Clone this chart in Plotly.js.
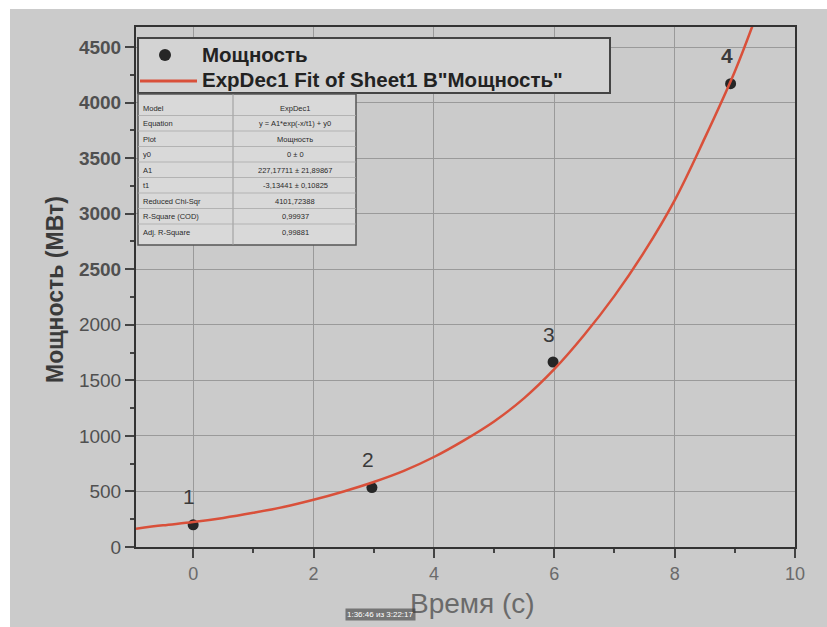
<!DOCTYPE html>
<html>
<head>
<meta charset="utf-8">
<script src="https://cdn.plot.ly/plotly-3.0.1.min.js"></script>
<style>html,body{margin:0;padding:0;background:#fff;}#chart{width:827px;height:627px;}</style>
</head>
<body>
<div id="chart"></div>
<script>
// Measured points (time, s ; power, MW)
const timeX = [0, 2.97, 5.98, 8.93];
const powerY = [200, 535, 1665, 4170];
const pointLabels = ["1", "2", "3", "<b>4</b>"];

// ExpDec1 fit curve
const fitX = [-0.95, -0.5, 0, 0.5, 1, 1.5, 2, 2.5, 3, 3.5, 4, 4.5, 5, 5.5, 6, 6.5, 7, 7.5, 8, 8.5, 9, 9.3];
const fitY = [165, 195, 225, 262, 308, 360, 425, 500, 585, 685, 810, 960, 1130, 1340, 1600, 1910, 2260, 2660, 3120, 3680, 4280, 4700];

// Tick labels
const yTickVals = [0, 500, 1000, 1500, 2000, 2500, 3000, 3500, 4000, 4500];
const yTickText = ["0", "500", "1000", "1500", "2000", "<b>2500</b>", "<b>3000</b>", "<b>3500</b>", "<b>4000</b>", "<b>4500</b>"];
const xTickVals = [0, 2, 4, 6, 8, 10];
const xTickText = ["0", "2", "4", "6", "8", "10"];

// Fit results table
const tableLabels = ["Model", "Equation", "Plot", "y0", "A1", "t1", "Reduced Chi-Sqr", "R-Square (COD)", "Adj. R-Square"];
const tableValues = ["ExpDec1", "y = A1*exp(-x/t1) + y0", "Мощность", "0 ± 0", "227,17711 ± 21,89867", "-3,13441 ± 0,10825", "4101,72388", "0,99937", "0,99881"];

const xTitle = "Время (с)";
const yTitle = "Мощность (МВт)";
const seriesName = "Мощность";
const fitName = "ExpDec1 Fit of Sheet1 B\"Мощность\"";
const stamp = "1:36:46 из 3:22:17";

const FONT = 'Liberation Sans, Arial, sans-serif';
// pixel -> paper helpers (plot area: x 136..795, y 27..547)
const PL = 136, PR = 795, PT = 27, PB = 547;
const px = x => (x - PL) / (PR - PL);
const py = y => (PB - y) / (PB - PT);

const traces = [
  {x: timeX, y: powerY, mode: 'markers', type: 'scatter', name: seriesName,
   marker: {color: '#262626', size: 11}, showlegend: false},
  {x: fitX, y: fitY, mode: 'lines', type: 'scatter', name: fitName,
   line: {color: '#d9503a', width: 2.5, shape: 'spline'}, showlegend: false}
];

const shapes = [
  // photo background
  {type: 'rect', xref: 'paper', yref: 'paper', x0: px(10), x1: px(827), y0: py(627), y1: py(9),
   fillcolor: '#cbcbcb', line: {width: 0}, layer: 'below'},
  // legend box
  {type: 'rect', xref: 'paper', yref: 'paper', x0: px(138), x1: px(610), y0: py(93), y1: py(38),
   fillcolor: '#d3d3d3', line: {color: '#444', width: 2}, layer: 'above'},
  {type: 'circle', xref: 'paper', yref: 'paper', x0: px(159), x1: px(171), y0: py(61), y1: py(49),
   fillcolor: '#262626', line: {width: 0}, layer: 'above'},
  {type: 'line', xref: 'paper', yref: 'paper', x0: px(140), x1: px(197), y0: py(81), y1: py(81),
   line: {color: '#d9503a', width: 3}, layer: 'above'},
  // table box
  {type: 'rect', xref: 'paper', yref: 'paper', x0: px(138), x1: px(356), y0: py(245), y1: py(94),
   fillcolor: '#d9d9d9', line: {color: '#555', width: 1.5}, layer: 'above'},
  {type: 'line', xref: 'paper', yref: 'paper', x0: px(233), x1: px(233), y0: py(245), y1: py(94),
   line: {color: '#999', width: 1}, layer: 'above'}
];
const annotations = [
  {xref: 'paper', yref: 'paper', x: px(200), y: py(54), xanchor: 'left', yanchor: 'middle', showarrow: false,
   text: '<b>' + seriesName + '</b>', font: {family: FONT, size: 20.5, color: '#222'}},
  {xref: 'paper', yref: 'paper', x: px(200), y: py(80), xanchor: 'left', yanchor: 'middle', showarrow: false,
   text: '<b>' + fitName + '</b>', font: {family: FONT, size: 20.5, color: '#222'}}
];
const rowTop = 106, rowStep = 15.5;
tableLabels.forEach((lab, i) => {
  const yc = rowTop + i * rowStep + 2;
  if (i > 0) shapes.push({type: 'line', xref: 'paper', yref: 'paper', x0: px(138), x1: px(356),
    y0: py(yc - 8), y1: py(yc - 8), line: {color: '#aaa', width: 0.8}, layer: 'above'});
  annotations.push({xref: 'paper', yref: 'paper', x: px(141), y: py(yc), xanchor: 'left', yanchor: 'middle',
    text: lab, showarrow: false, font: {family: FONT, size: 7.5, color: '#2a2a2a'}});
  annotations.push({xref: 'paper', yref: 'paper', x: px(295), y: py(yc), xanchor: 'center', yanchor: 'middle',
    text: tableValues[i], showarrow: false, font: {family: FONT, size: 7.5, color: '#2a2a2a'}});
});
// point number labels
timeX.forEach((xv, i) => {
  annotations.push({x: xv, y: powerY[i], xref: 'x', yref: 'y', text: pointLabels[i], showarrow: false,
    yshift: 28, xshift: -4, font: {family: FONT, size: 21, color: '#3a3a3a'}});
});
// axis titles
annotations.push({xref: 'paper', yref: 'paper', x: px(40), y: py(290), text: '<b>' + yTitle + '</b>',
  textangle: -90, showarrow: false, font: {family: FONT, size: 23, color: '#3a3a3a'}});
annotations.push({xref: 'paper', yref: 'paper', x: px(472), y: py(621), text: xTitle,
  showarrow: false, font: {family: FONT, size: 28, color: '#6a6a6a'}});
annotations.push({xref: 'paper', yref: 'paper', x: px(345), y: py(621), text: stamp,
  showarrow: false, bgcolor: 'rgba(60,60,60,0.6)', font: {family: FONT, size: 8, color: '#fff'}});

const axisCommon = {
  showline: true, linecolor: '#333', linewidth: 2, mirror: true,
  ticks: 'outside', ticklen: 9, tickwidth: 2, tickcolor: '#444',
  showgrid: true, gridcolor: '#9a9a9a', gridwidth: 1, zeroline: false
};

const layout = {
  width: 827, height: 627,
  margin: {l: PL, r: 827 - PR, t: PT, b: 627 - PB},
  paper_bgcolor: '#ffffff', plot_bgcolor: '#cfcfcf',
  xaxis: Object.assign({}, axisCommon, {range: [-0.95, 10], tickmode: 'array',
    tickvals: xTickVals, ticktext: xTickText,
    tickfont: {family: FONT, size: 18, color: '#6a6a6a'},
    minor: {dtick: 1, tick0: 0, ticks: 'outside', ticklen: 4, tickcolor: '#444', showgrid: false}}),
  yaxis: Object.assign({}, axisCommon, {range: [0, 4680], tickmode: 'array',
    tickvals: yTickVals, ticktext: yTickText,
    tickfont: {family: FONT, size: 19, color: '#505050'},
    minor: {dtick: 250, tick0: 0, ticks: 'outside', ticklen: 4, tickcolor: '#444', showgrid: false}}),
  showlegend: false,
  shapes: shapes,
  annotations: annotations
};

Plotly.newPlot('chart', traces, layout, {displayModeBar: false, staticPlot: true});
</script>
</body>
</html>
